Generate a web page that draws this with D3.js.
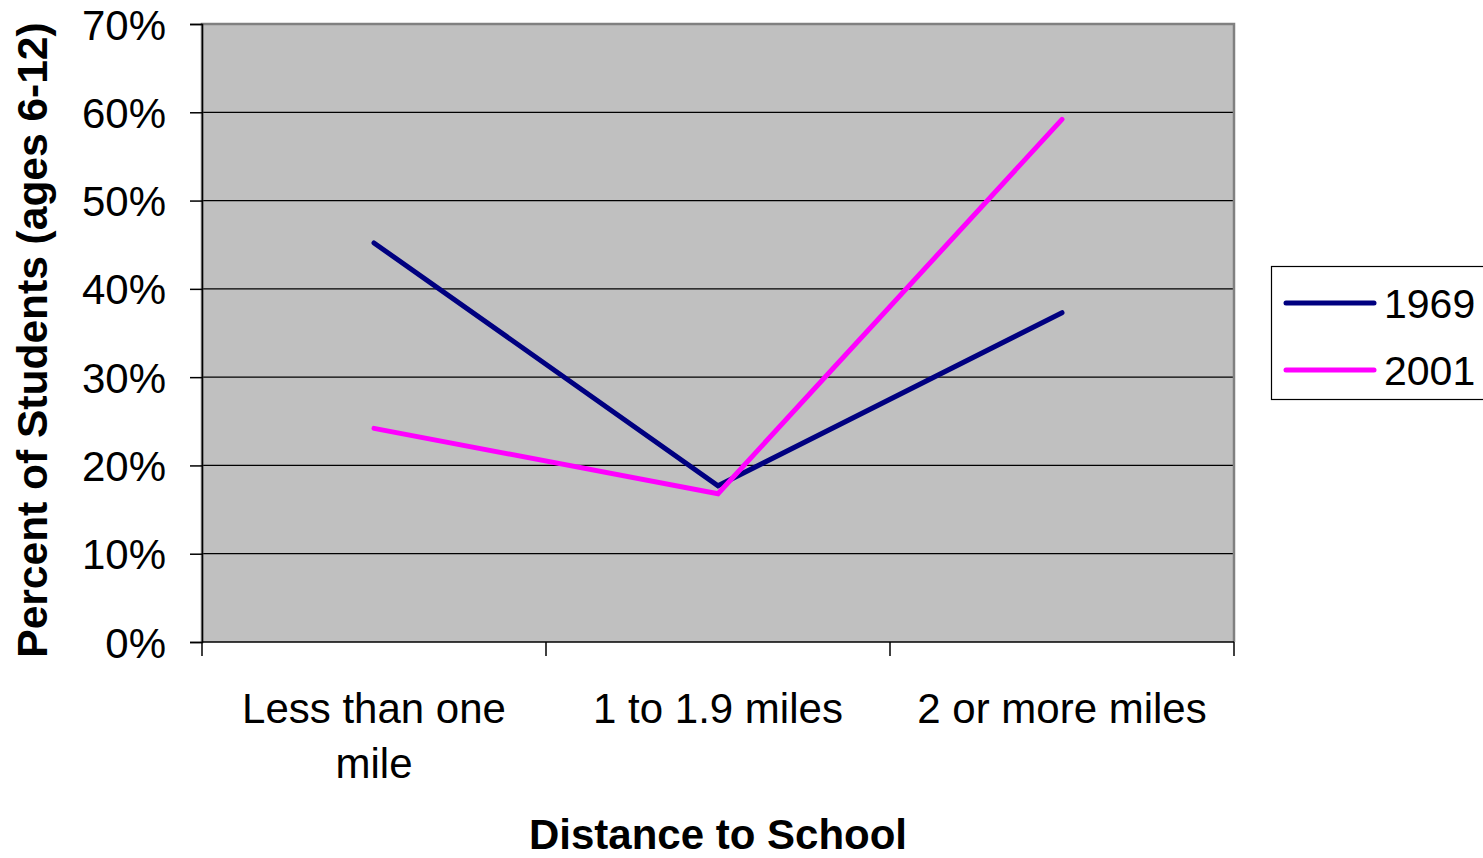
<!DOCTYPE html>
<html><head><meta charset="utf-8">
<script src="https://cdn.jsdelivr.net/npm/d3@7"></script>
<style>body{margin:0;background:#fff}svg{display:block}text{font-family:"Liberation Sans",Arial,sans-serif}</style>
</head><body>
<svg id="c" width="1483" height="858"></svg>
<script>
const categories = ["Less than one mile", "1 to 1.9 miles", "2 or more miles"];
const categoryLines = [["Less than one", "mile"], ["1 to 1.9 miles"], ["2 or more miles"]];
const series1969 = [45.2, 17.7, 37.3];
const series2001 = [24.2, 16.8, 59.2];
const seriesNames = ["1969", "2001"];
const seriesColors = ["#000080", "#FF00FF"];
const yTicks = [0, 10, 20, 30, 40, 50, 60, 70];

const svg = d3.select("#c");
const L = 202, R = 1234, T = 24, B = 642;
const x = d3.scaleBand().domain(categories).range([L, R]);
const y = d3.scaleLinear().domain([0, 70]).range([B, T]);

svg.append("rect").attr("x", L).attr("y", T).attr("width", R - L).attr("height", B - T).attr("fill", "#c0c0c0");

// gridlines
svg.append("g").selectAll("line").data(yTicks.filter(d => d > 0 && d < 70)).join("line")
  .attr("x1", L).attr("x2", R).attr("y1", d => y(d)).attr("y2", d => y(d))
  .attr("stroke", "#000").attr("stroke-width", 1.2);

// plot border (grey)
svg.append("path").attr("d", `M${L},${B}V${T}H${R}V${B}`).attr("fill", "none").attr("stroke", "#808080").attr("stroke-width", 2.5);

// Y axis
const yAxis = d3.axisLeft(y).tickValues(yTicks).tickSize(12).tickFormat(d => d + "%");
const gy = svg.append("g").attr("transform", `translate(${L},0)`).call(yAxis);
gy.select(".domain").attr("stroke", "#000").attr("stroke-width", 1.5);
gy.selectAll(".tick line").attr("stroke", "#000").attr("stroke-width", 1.5);
gy.selectAll(".tick text").attr("font-size", 42).attr("fill", "#000").attr("x", -36).attr("dy", "0.36em")
  .attr("font-family", "'Liberation Sans', Arial, sans-serif");

// X axis
const gx = svg.append("g").attr("transform", `translate(0,${B})`);
gx.append("line").attr("x1", L).attr("x2", R).attr("y1", 0).attr("y2", 0).attr("stroke", "#000").attr("stroke-width", 1.5);
const bounds = [L].concat(categories.map(c => x(c) + x.bandwidth()));
gx.selectAll("line.t").data(bounds).join("line").attr("class", "t")
  .attr("x1", d => d).attr("x2", d => d).attr("y1", 0).attr("y2", 14).attr("stroke", "#000").attr("stroke-width", 1.5);
categories.forEach((c, i) => {
  const t = gx.append("text").attr("x", x(c) + x.bandwidth() / 2).attr("y", 81)
    .attr("text-anchor", "middle").attr("font-size", 42).attr("fill", "#000");
  categoryLines[i].forEach((ln, j) => {
    t.append("tspan").attr("x", x(c) + x.bandwidth() / 2).attr("dy", j === 0 ? 0 : 55).text(ln);
  });
});

// axis titles
svg.append("text").attr("x", 718).attr("y", 849).attr("text-anchor", "middle")
  .attr("font-size", 42).attr("font-weight", "bold").text("Distance to School");
svg.append("text").attr("transform", "translate(47,340) rotate(-90)").attr("text-anchor", "middle")
  .attr("font-size", 42.5).attr("font-weight", "bold").text("Percent of Students (ages 6-12)");

// lines
const line = d3.line().x((d, i) => x(categories[i]) + x.bandwidth() / 2).y(d => y(d));
[series1969, series2001].forEach((s, k) => {
  svg.append("path").datum(s).attr("d", line).attr("fill", "none")
    .attr("stroke", seriesColors[k]).attr("stroke-width", 5).attr("stroke-linecap", "round").attr("stroke-linejoin", "miter");
});

// legend
const lg = svg.append("g");
lg.append("rect").attr("x", 1271.5).attr("y", 266.5).attr("width", 220).attr("height", 133)
  .attr("fill", "#fff").attr("stroke", "#000").attr("stroke-width", 1.2);
seriesNames.forEach((n, k) => {
  const yy = 303 + k * 67;
  lg.append("line").attr("x1", 1286).attr("x2", 1374).attr("y1", yy).attr("y2", yy)
    .attr("stroke", seriesColors[k]).attr("stroke-width", 5).attr("stroke-linecap", "round");
  lg.append("text").attr("x", 1384).attr("y", yy + 15).attr("font-size", 41).attr("fill", "#000").text(n);
});
</script>
</body></html>
